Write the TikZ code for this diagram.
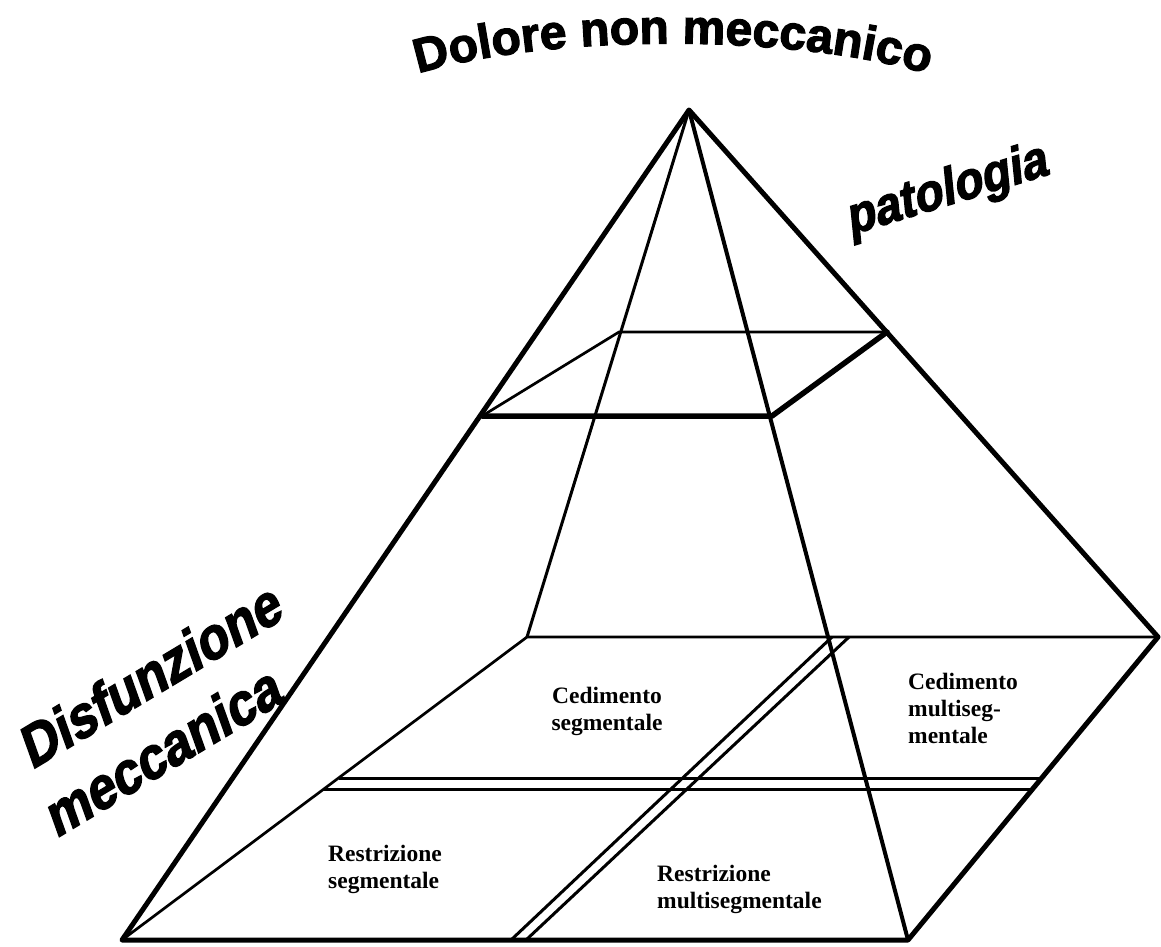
\documentclass[tikz,border=0pt]{standalone}
\usepackage{fontspec}
\setmainfont{Liberation Serif}
\newfontfamily\heavy{Liberation Sans}[FakeBold=2.5]
\newfontfamily\heavyit{Liberation Sans}[FakeBold=2.5,FakeSlant=0.2,FakeStretch=0.9]
\usetikzlibrary{calc,decorations.text}
\begin{document}
\begin{tikzpicture}[x=1pt,y=-1pt,
  outer/.style={line width=5pt,line cap=round,line join=round},
  frontedge/.style={line width=4pt,line cap=round},
  backedge/.style={line width=3pt,line cap=round},
  thinedge/.style={line width=2.7pt,line cap=round,line join=round},
  slabedge/.style={line width=5.5pt,line cap=round,line join=round},
  dbl/.style={line width=3pt},
  cell/.style={font=\fontsize{23.5}{27}\selectfont\bfseries,inner sep=0pt},
  label/.style={font=\heavyit\bfseries\fontsize{58}{52}\selectfont,inner sep=0pt}]
\fill[white] (0,0) rectangle (1161,946);
\useasboundingbox (0,0) rectangle (1161,946);
% corners
\coordinate (A) at (689,110);
\coordinate (FL) at (122,940);
\coordinate (FR) at (908,940);
\coordinate (BR) at (1158,637);
\coordinate (BL) at (527,637);
\coordinate (C1) at (482,416);
\coordinate (C2) at (619,332);
\coordinate (C3) at (887,332);
\coordinate (C4) at (772,416);
% double lines in the bottom slab
\coordinate (H1L) at ($(FL)!0.5347!(BL)$);
\coordinate (H1R) at ($(FR)!0.5347!(BR)$);
\coordinate (H2L) at ($(FL)!0.4983!(BL)$);
\coordinate (H2R) at ($(FR)!0.4983!(BR)$);
\coordinate (G1t) at (832,637);
\coordinate (G1b) at (511,940);
\coordinate (G2t) at (849,637);
\coordinate (G2b) at (526,940);
\draw[dbl] (H1L) -- (H1R);
\draw[dbl] (H2L) -- (H2R);
\draw[dbl] (G1t) -- (G1b);
\draw[dbl] (G2t) -- (G2b);
% pyramid
\draw[thinedge] (FL) -- (BL) -- (BR);
\draw[backedge] (A) -- (BL);
\draw[frontedge] (A) -- (FR);
\draw[thinedge] (C1) -- (C2) -- (C3);
\draw[slabedge] (C1) -- (C4) -- (C3);
\draw[outer] (FL) -- (A) -- (BR) -- (FR) -- cycle;
% cell texts
\node[cell,align=center] (cs) at (607,711) {Cedimento\\segmentale};
\node[cell,align=left,anchor=west] (cm) at (908,708) {Cedimento\\multiseg-\\mentale};
\node[cell,align=left,anchor=west] (rs) at (328,869) {Restrizione\\segmentale};
\node[cell,align=left,anchor=west] (rm) at (657,889) {Restrizione\\multisegmentale};
% titles
\path[decorate,decoration={text along path,text align=center,
  text={|\heavy\bfseries\fontsize{48}{48}\selectfont|Dolore non meccanico}}]
  (388,84) .. controls (520,30) and (820,30) .. (958,84);
\node[label,rotate=17,font=\heavyit\bfseries\fontsize{52}{52}\selectfont] (pat) at (946,192) {patologia};
\node[label,rotate=31] (dis) at (148,676) {Disfunzione};
\node[label,rotate=31] (mec) at (160,752) {meccanica};
\end{tikzpicture}
\end{document}
